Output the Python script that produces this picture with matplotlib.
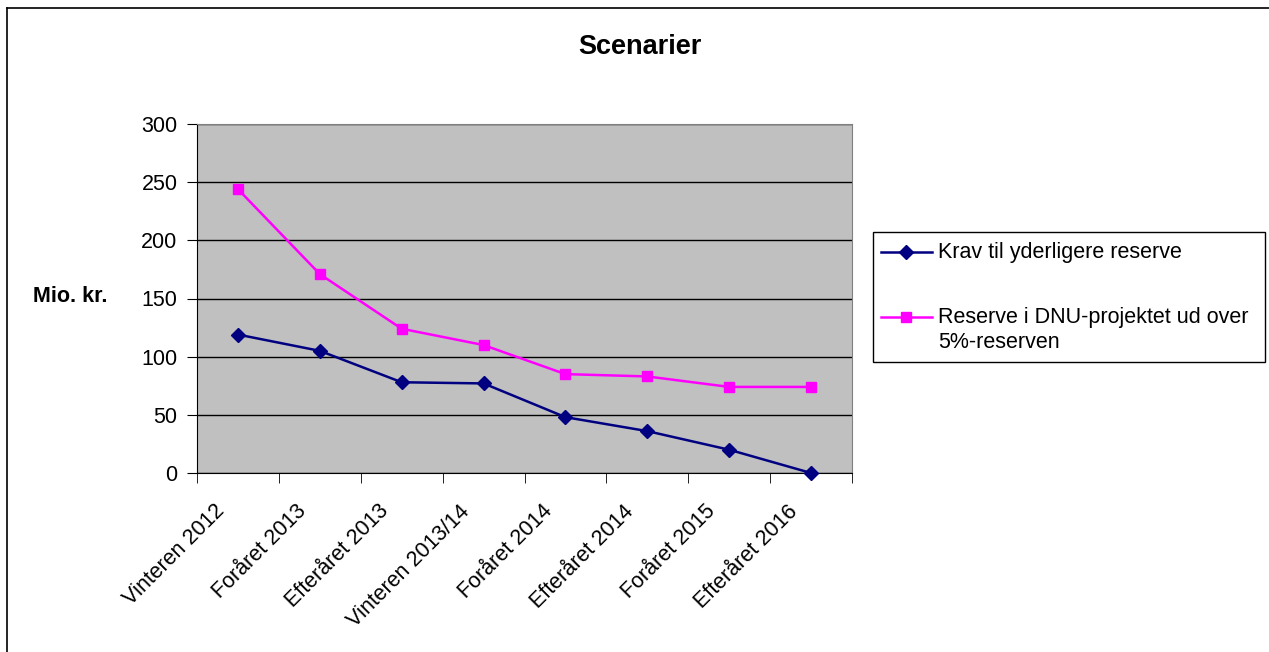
import matplotlib.pyplot as plt
from matplotlib.lines import Line2D
from matplotlib.patches import Rectangle
from matplotlib.transforms import ScaledTranslation
import numpy as np

plt.rcParams['font.family'] = ['Liberation Sans', 'DejaVu Sans']

categories = ["Vinteren 2012", "Foråret 2013", "Efteråret 2013", "Vinteren 2013/14",
              "Foråret 2014", "Efteråret 2014", "Foråret 2015", "Efteråret 2016"]
krav = [119, 105, 78, 77, 48, 36, 20, 0]
reserve = [244, 171, 124, 110, 85, 83, 74, 74]
labels = ["Krav til yderligere reserve", "Reserve i DNU-projektet ud over\n5%-reserven"]
colors = ['#000080', '#FF00FF']
markers = ['D', 's']

W, H = 1269, 652
fig = plt.figure(figsize=(W / 100, H / 100), dpi=100)
ax = fig.add_axes([197 / W, 1 - 473 / H, 655 / W, 349 / H])

def fx(px):
    return px / W

def fy(py):
    return 1 - py / H

# outer chart border (only left and top are visible)
fig.add_artist(Line2D([fx(7), fx(7)], [0, fy(8)], transform=fig.transFigure, color='black', lw=1.2))
fig.add_artist(Line2D([fx(7), 1], [fy(8), fy(8)], transform=fig.transFigure, color='black', lw=1.2))

ax.set_facecolor('#C0C0C0')
x = np.arange(len(categories))
for vals, c, m, lab in zip([krav, reserve], colors, markers, labels):
    ax.plot(x, vals, color=c, lw=1.8, marker=m, ms=7, label=lab, zorder=3, clip_on=False)

ax.set_xlim(-0.5, len(categories) - 0.5)
ax.set_ylim(0, 300)
ax.set_yticks(range(0, 301, 50))
ax.yaxis.grid(True, color='black', lw=1)
ax.set_axisbelow(True)

ax.set_xticks(x)
ax.set_xticklabels(categories, rotation=45, ha='right', va='top', rotation_mode='anchor', fontsize=15.5)
ax.tick_params(axis='x', length=0, pad=20)
shift = ScaledTranslation(-24 / 100, 0, fig.dpi_scale_trans)
for t in ax.get_xticklabels():
    t.set_transform(t.get_transform() + shift)
ax.set_xticks(np.arange(-0.5, len(categories)), minor=True)
ax.tick_params(axis='x', which='minor', length=7, direction='out', color='black')
ax.tick_params(axis='y', length=7, direction='out', labelsize=15.5, pad=7)

for s in ['top', 'right']:
    ax.spines[s].set_color('#808080')
for s in ['left', 'bottom']:
    ax.spines[s].set_color('black')

fig.text(fx(640), fy(47), "Scenarier", fontsize=19.5, fontweight='bold', ha='center', va='center')
fig.text(fx(70), fy(297), "Mio. kr.", fontsize=15.5, fontweight='bold', ha='center', va='center')

# legend box drawn by hand so the handle sits on the first text line
fig.add_artist(Rectangle((fx(873), fy(362)), fx(1265) - fx(873), fy(232) - fy(362),
                         transform=fig.transFigure, facecolor='white', edgecolor='black', lw=1.0))
rows = [252, 317]
for lab, c, m, ry in zip(labels, colors, markers, rows):
    fig.add_artist(Line2D([fx(881), fx(932)], [fy(ry), fy(ry)], transform=fig.transFigure,
                          color=c, lw=1.8))
    fig.add_artist(Line2D([fx(906)], [fy(ry)], transform=fig.transFigure, color=c,
                          marker=m, ms=7, lw=0))
    fig.text(fx(938), fy(ry - 10), lab, fontsize=15.5, ha='left', va='top', linespacing=1.25)

fig.savefig("out.png", dpi=100)
